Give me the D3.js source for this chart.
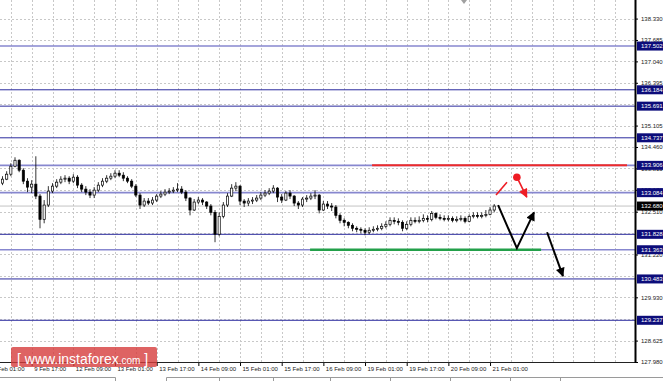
<!DOCTYPE html>
<html>
<head>
<meta charset="utf-8">
<script src="https://cdn.jsdelivr.net/npm/d3@7"></script>
<style>
  body { margin: 0; background: #fff; }
  svg { display: block; font-family: "Liberation Sans", Arial, sans-serif; }
</style>
</head>
<body>
<div id="chart"></div>
<script>
// size of the picture and of the plot area
var width = 663, height = 381,
    plotRight = 635, plotBottom = 362;

// candles: open of the first bar, then closes / highs / lows (open = previous close)
var firstOpen = 133.37;
var closes = [133.49,133.64,133.88,134.06,133.76,133.43,133.25,133.34,132.98,132.28,
  132.71,133.13,133.28,133.40,133.49,133.52,133.43,133.55,133.31,133.19,
  133.10,133.01,133.16,133.31,133.43,133.52,133.58,133.67,133.61,133.52,
  133.43,133.28,133.01,132.71,132.83,132.77,132.86,132.98,133.04,133.10,
  133.13,133.16,133.19,133.10,132.92,132.56,132.80,132.86,132.80,132.68,
  132.49,131.83,132.37,132.71,132.98,133.22,133.28,132.83,132.77,132.83,
  132.86,132.92,133.01,133.07,133.13,133.22,132.95,132.86,133.07,132.98,
  132.77,132.71,132.89,132.92,132.98,133.01,132.56,132.74,132.68,132.65,
  132.40,132.25,132.19,132.10,132.01,131.98,131.95,131.89,131.95,131.98,
  132.01,132.07,132.13,132.25,132.22,132.19,132.01,132.13,132.25,132.22,
  132.25,132.31,132.28,132.46,132.34,132.31,132.28,132.31,132.25,132.28,
  132.31,132.22,132.37,132.40,132.37,132.40,132.43,132.56,132.68];
var highs = [133.58,133.73,133.97,134.15,134.09,133.82,133.52,133.46,134.18,133.04,
  132.86,133.28,133.37,133.49,133.58,133.61,133.58,133.64,133.61,133.37,
  133.28,133.19,133.25,133.40,133.52,133.61,133.67,133.76,133.76,133.70,
  133.58,133.49,133.34,133.07,132.92,132.92,132.95,133.04,133.13,133.19,
  133.22,133.25,133.37,133.28,133.16,132.95,132.89,132.95,132.92,132.83,
  132.74,132.56,132.49,132.80,133.07,133.34,133.40,133.31,132.89,132.92,
  132.95,133.01,133.10,133.16,133.22,133.31,133.25,133.04,133.13,133.16,
  133.01,132.83,132.95,133.01,133.07,133.16,133.04,132.83,132.83,132.77,
  132.71,132.46,132.31,132.22,132.16,132.07,132.04,132.01,132.04,132.07,
  132.10,132.16,132.22,132.34,132.34,132.31,132.25,132.22,132.34,132.34,
  132.37,132.43,132.40,132.53,132.49,132.43,132.40,132.40,132.37,132.37,
  132.40,132.37,132.43,132.49,132.49,132.49,132.56,132.65,132.74];
var lows = [133.31,133.46,133.58,133.85,133.70,133.34,133.10,133.07,132.89,132.01,
  132.16,132.65,133.07,133.22,133.34,133.40,133.34,133.37,133.22,133.10,
  133.01,132.92,132.92,133.10,133.25,133.37,133.46,133.52,133.55,133.43,
  133.37,133.22,132.95,132.59,132.65,132.71,132.71,132.80,132.92,132.98,
  133.04,133.07,133.10,133.04,132.83,132.40,132.53,132.74,132.71,132.59,
  132.40,131.59,131.77,132.31,132.65,132.95,133.13,132.71,132.65,132.68,
  132.74,132.80,132.86,132.95,133.01,133.07,132.80,132.77,132.83,132.89,
  132.68,132.59,132.65,132.80,132.86,132.89,132.46,132.53,132.59,132.53,
  132.31,132.16,132.07,132.01,131.92,131.89,131.86,131.80,131.83,131.89,
  131.92,131.95,132.01,132.07,132.13,132.10,131.92,131.95,132.07,132.16,
  132.16,132.19,132.19,132.22,132.28,132.25,132.22,132.22,132.19,132.19,
  132.22,132.16,132.19,132.31,132.31,132.31,132.34,132.40,132.49];
var barHours = 1.6, firstBarHour = 4.8;

// time axis: one label every 16 hours, grid every 8 hours
var timeLabels = ["9 Feb 01:00","9 Feb 17:00","12 Feb 09:00","13 Feb 01:00","13 Feb 17:00",
  "14 Feb 09:00","15 Feb 01:00","15 Feb 17:00","16 Feb 09:00","19 Feb 01:00",
  "19 Feb 17:00","20 Feb 09:00","21 Feb 01:00"];
// grid levels of the price scale; the labelled ones are those not hidden by a level box
var priceTicks = [138.330,137.685,137.040,136.395,135.750,135.105,134.460,133.815,133.170,
  132.510,131.865,131.220,130.575,129.930,129.285,128.625,127.980];
var priceLabels = [138.330,137.685,137.040,136.395,135.105,134.460,133.815,133.170,
  132.510,131.220,129.930,128.625,127.980];

// horizontal levels (the soft ones are drawn lighter)
var levels = [137.502,136.184,135.691,134.737,133.906,133.084,131.828,131.363,130.483,129.237];
var softLevels = [137.502,133.906,133.084,131.363];
var lastPrice = 132.680;

// annotations, as [hour, price]
var resistanceLine = [[146.7,133.906],[244.6,133.906]];
var supportLine = [[122.9,131.363],[211.6,131.363]];
var redRise = [[194.3,133.01],[198.5,133.40]];
var redDot = [202.3,133.55];
var redDrop = [[202.3,133.55],[206.1,132.95]];
var blackSwing = [[195.1,132.71],[202.3,131.41],[208.9,132.49]];
var blackDrop = [[213.9,131.89],[220.0,130.57]];
var shiftMarkHour = 182;

var x = d3.scaleLinear().domain([0, 16]).range([-10, 31.67]);
var y = d3.scaleLinear().domain([127.98, 138.89]).range([plotBottom, 0]);

var svg = d3.select("#chart").append("svg")
    .attr("width", width)
    .attr("height", height);

var defs = svg.append("defs");
defs.append("clipPath").attr("id", "plot")
  .append("rect").attr("width", plotRight).attr("height", plotBottom);
function marker(id, color) {
  defs.append("marker")
      .attr("id", id)
      .attr("viewBox", "0 0 10 10")
      .attr("refX", 9).attr("refY", 5)
      .attr("markerUnits", "userSpaceOnUse")
      .attr("markerWidth", 10).attr("markerHeight", 9)
      .attr("orient", "auto")
    .append("path")
      .attr("d", "M0,0L10,5L0,10z")
      .attr("fill", color);
}
marker("arrowBlack", "#000");
marker("arrowRed", "#ee1c24");

var plot = svg.append("g").attr("clip-path", "url(#plot)");

// grid
var hourEnd = x.invert(plotRight);
plot.append("g").selectAll("line")
  .data(d3.range(0, hourEnd, 8))
  .enter().append("line")
    .attr("x1", function(d) { return Math.round(x(d)) + 0.5; })
    .attr("x2", function(d) { return Math.round(x(d)) + 0.5; })
    .attr("y1", 0).attr("y2", plotBottom)
    .attr("stroke", "#c8c8c8").attr("stroke-dasharray", "2,2");
plot.append("g").selectAll("line")
  .data(priceTicks)
  .enter().append("line")
    .attr("x1", 0).attr("x2", plotRight)
    .attr("y1", function(d) { return Math.round(y(d)) + 0.5; })
    .attr("y2", function(d) { return Math.round(y(d)) + 0.5; })
    .attr("stroke", "#c8c8c8").attr("stroke-dasharray", "2,2");

// bid line
plot.append("line")
  .attr("x1", 0).attr("x2", plotRight)
  .attr("y1", y(lastPrice)).attr("y2", y(lastPrice))
  .attr("stroke", "#c4c4c4");

// level lines
plot.append("g").selectAll("line")
  .data(levels)
  .enter().append("line")
    .attr("x1", 0).attr("x2", plotRight)
    .attr("y1", function(d) { return y(d); })
    .attr("y2", function(d) { return y(d); })
    .attr("stroke", function(d) { return softLevels.indexOf(d) >= 0 ? "#8787cf" : "#2b2b9e"; })
    .attr("stroke-width", function(d) { return softLevels.indexOf(d) >= 0 ? 1.6 : 1; });

// candles
var bars = closes.map(function(c, i) {
  return {t: firstBarHour + i * barHours, o: i ? closes[i - 1] : firstOpen,
          c: c, h: highs[i], l: lows[i]};
});
var candle = plot.append("g").selectAll("g")
  .data(bars)
  .enter().append("g");
candle.append("line")
  .attr("x1", function(d) { return x(d.t); })
  .attr("x2", function(d) { return x(d.t); })
  .attr("y1", function(d) { return y(d.h); })
  .attr("y2", function(d) { return y(d.l); })
  .attr("stroke", "#000").attr("stroke-width", 0.8);
candle.append("rect")
  .attr("x", function(d) { return x(d.t) - 1.1; })
  .attr("width", 2.2)
  .attr("y", function(d) { return y(Math.max(d.o, d.c)); })
  .attr("height", function(d) { return Math.max(1, Math.abs(y(d.o) - y(d.c))); })
  .attr("fill", function(d) { return d.c >= d.o ? "#fff" : "#000"; })
  .attr("stroke", "#000").attr("stroke-width", 0.7);

// support / resistance
var line = d3.line()
  .x(function(d) { return x(d[0]); })
  .y(function(d) { return y(d[1]); });
plot.append("path").attr("d", line(resistanceLine))
  .attr("stroke", "#ee2a2a").attr("stroke-width", 2).attr("fill", "none");
plot.append("path").attr("d", line(supportLine))
  .attr("stroke", "#23a04a").attr("stroke-width", 2.5).attr("fill", "none");

// forecast arrows
plot.append("path").attr("d", line(redRise))
  .attr("stroke", "#ee1c24").attr("stroke-width", 1.6).attr("fill", "none");
plot.append("circle")
  .attr("cx", x(redDot[0])).attr("cy", y(redDot[1])).attr("r", 3.8)
  .attr("fill", "#ee1c24");
plot.append("path").attr("d", line(redDrop))
  .attr("stroke", "#ee1c24").attr("stroke-width", 1.6).attr("fill", "none")
  .attr("marker-end", "url(#arrowRed)");
plot.append("path").attr("d", line(blackSwing))
  .attr("stroke", "#000").attr("stroke-width", 2).attr("fill", "none")
  .attr("stroke-linejoin", "miter")
  .attr("marker-end", "url(#arrowBlack)");
plot.append("path").attr("d", line(blackDrop))
  .attr("stroke", "#000").attr("stroke-width", 2).attr("fill", "none")
  .attr("marker-end", "url(#arrowBlack)");

// small shift marker at the top
plot.append("path")
  .attr("d", "M" + (x(shiftMarkHour) - 3) + ",0L" + (x(shiftMarkHour) + 3) + ",0L" + x(shiftMarkHour) + ",4z")
  .attr("fill", "#a0a0a0");

// price axis
var yAxis = svg.append("g")
  .attr("transform", "translate(" + plotRight + ",0)")
  .call(d3.axisRight(y).tickValues(priceLabels).tickSize(3).tickPadding(3)
        .tickFormat(d3.format(".3f")));
yAxis.select(".domain").remove();
yAxis.selectAll("text").attr("font-size", 6).attr("fill", "#222").attr("font-family", null);
yAxis.selectAll("line").attr("stroke", "#000");

// time axis
var xAxis = svg.append("g")
  .attr("transform", "translate(0," + plotBottom + ")")
  .call(d3.axisBottom(x).tickValues(timeLabels.map(function(d, i) { return i * 16; }))
        .tickSize(4).tickFormat(function(d) { return timeLabels[d / 16]; }));
xAxis.select(".domain").remove();
xAxis.selectAll("line").attr("stroke", "#000");
xAxis.selectAll("text")
  .attr("text-anchor", "start")
  .attr("x", 2).attr("y", 6.5).attr("dy", "0.35em")
  .attr("font-size", 6).attr("fill", "#222").attr("font-family", null);

// frame
svg.append("line")
  .attr("x1", 0).attr("x2", plotRight + 1)
  .attr("y1", plotBottom + 0.5).attr("y2", plotBottom + 0.5)
  .attr("stroke", "#222");
svg.append("line")
  .attr("x1", plotRight + 0.5).attr("x2", plotRight + 0.5)
  .attr("y1", 0).attr("y2", plotBottom + 1)
  .attr("stroke", "#000").attr("stroke-width", 2);

// price boxes on the axis
function priceBox(v, color) {
  var g = svg.append("g").attr("transform", "translate(" + (plotRight + 2) + "," + y(v) + ")");
  g.append("rect").attr("x", 0).attr("y", -4.5).attr("width", width - plotRight - 2).attr("height", 9)
    .attr("fill", color);
  g.append("text").attr("x", 4).attr("dy", "0.35em")
    .attr("font-size", 6).attr("fill", "#fff").text(d3.format(".3f")(v));
}
levels.forEach(function(v) { priceBox(v, "#0c0c7a"); });
priceBox(lastPrice, "#000");

// bottom tab strip
var tabs = svg.append("g").attr("stroke", "#9a9a9a").attr("fill", "none");
tabs.append("path").attr("d", "M0,377.5H115.5V381M166.5,381V377.5H663");
[219, 273, 330, 390, 450, 510, 560].forEach(function(t) {
  tabs.append("line").attr("x1", t + 0.5).attr("x2", t + 0.5).attr("y1", 377.5).attr("y2", 381);
});

// logo
var logo = svg.append("g");
logo.append("rect")
  .attr("x", 11).attr("y", 347).attr("width", 146).attr("height", 20).attr("rx", 2)
  .attr("fill", "#d63c3c").attr("opacity", 0.8);
var lt = logo.append("text").attr("x", 17).attr("y", 363.5)
  .attr("fill", "#fff").attr("font-size", 14);
lt.append("tspan").text("[ ");
lt.append("tspan").attr("textLength", 94).text("www.instaforex");
lt.append("tspan").attr("font-size", 10).text(".com");
lt.append("tspan").text(" ]");
</script>
</body>
</html>
